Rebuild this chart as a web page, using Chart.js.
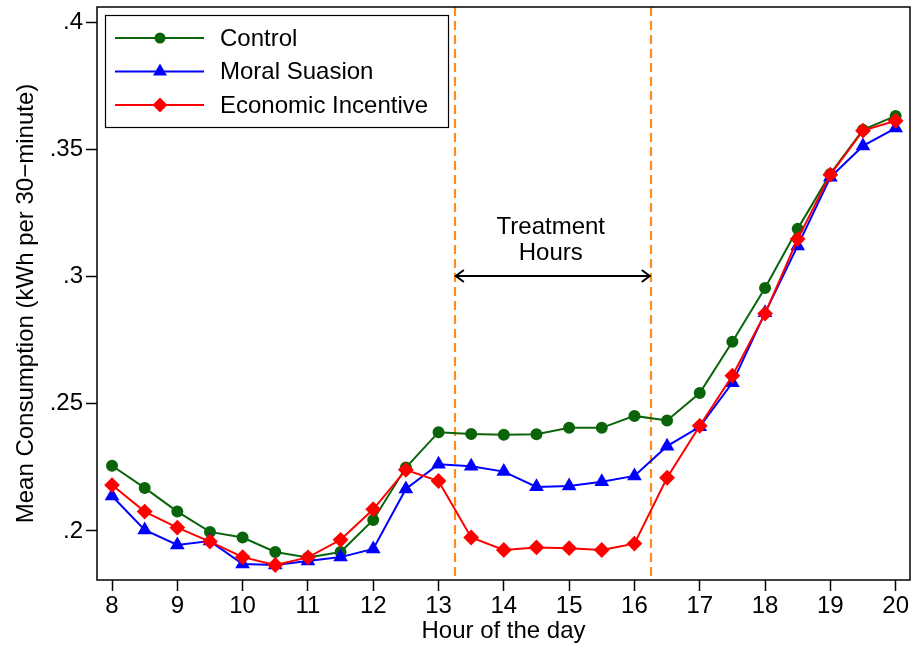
<!DOCTYPE html>
<html>
<head>
<meta charset="utf-8">
<script src="https://cdn.jsdelivr.net/npm/chart.js@4"></script>
<style>
  html, body { margin: 0; padding: 0; background: #fff; }
  #wrap { width: 912px; height: 646px; }
</style>
</head>
<body>
<div id="wrap"><canvas id="myChart" width="912" height="646"></canvas></div>
<script>
// half-hour slots
const hours = [8, 8.5, 9, 9.5, 10, 10.5, 11, 11.5, 12, 12.5, 13, 13.5, 14, 14.5, 15, 15.5, 16, 16.5, 17, 17.5, 18, 18.5, 19, 19.5, 20];

const control = [0.2256, 0.2169, 0.2076, 0.1996, 0.1974, 0.1917, 0.1895, 0.1917, 0.2043, 0.2249,
  0.2388, 0.2381, 0.2378, 0.2380, 0.2405, 0.2405, 0.2452, 0.2434, 0.2542, 0.2743,
  0.2955, 0.3187, 0.3403, 0.3576, 0.3631];
const moralSuasion = [0.2137, 0.2004, 0.1945, 0.1960, 0.1870, 0.1866, 0.1882, 0.1897, 0.1929, 0.2165,
  0.2262, 0.2254, 0.2233, 0.2173, 0.2176, 0.2193, 0.2216, 0.2333, 0.2409, 0.2582,
  0.2857, 0.3120, 0.3390, 0.3513, 0.3583];
const economicIncentive = [0.2180, 0.2076, 0.2013, 0.1958, 0.1897, 0.1866, 0.1896, 0.1965, 0.2085, 0.2240,
  0.2196, 0.1974, 0.1925, 0.1935, 0.1932, 0.1925, 0.1950, 0.2209, 0.2413, 0.2610,
  0.2854, 0.3147, 0.3400, 0.3573, 0.3612];

const xTicks = [8, 9, 10, 11, 12, 13, 14, 15, 16, 17, 18, 19, 20];
const yTicks = [0.2, 0.25, 0.3, 0.35, 0.4];
const yTickLabels = [".2", ".25", ".3", ".35", ".4"];

// treatment window
const treatStart = 13.25;
const treatEnd = 16.25;
const arrowLevel = 0.3;
const treatLabel = ["Treatment", "Hours"];

const FONT = "'Liberation Sans', Arial, Helvetica, sans-serif";

function toPoints(vals) {
  return hours.map((h, i) => ({ x: h, y: vals[i] }));
}

// frame, treatment lines, arrow and legend box
const decorations = {
  id: "decorations",
  beforeDatasetsDraw(chart) {
    const { ctx, chartArea, scales } = chart;
    ctx.save();
    ctx.strokeStyle = "#ff8c1a";
    ctx.lineWidth = 2.2;
    ctx.setLineDash([9, 5]);
    [treatStart, treatEnd].forEach((v) => {
      const px = Math.round(scales.x.getPixelForValue(v));
      ctx.beginPath();
      ctx.moveTo(px, chartArea.top);
      ctx.lineTo(px, chartArea.bottom);
      ctx.stroke();
    });
    ctx.setLineDash([]);

    // double arrow
    const x1 = scales.x.getPixelForValue(treatStart);
    const x2 = scales.x.getPixelForValue(treatEnd);
    const ay = Math.round(scales.y.getPixelForValue(arrowLevel));
    ctx.strokeStyle = "#000";
    ctx.lineWidth = 2;
    ctx.beginPath();
    ctx.moveTo(x1, ay);
    ctx.lineTo(x2, ay);
    ctx.moveTo(x1 + 9, ay - 6);
    ctx.lineTo(x1 + 1, ay);
    ctx.lineTo(x1 + 9, ay + 6);
    ctx.moveTo(x2 - 9, ay - 6);
    ctx.lineTo(x2 - 1, ay);
    ctx.lineTo(x2 - 9, ay + 6);
    ctx.stroke();

    ctx.fillStyle = "#000";
    ctx.font = "24px " + FONT;
    ctx.textAlign = "center";
    ctx.textBaseline = "middle";
    const cx = (x1 + x2) / 2 - 2;
    ctx.fillText(treatLabel[0], cx, 227);
    ctx.fillText(treatLabel[1], cx, 253);
    ctx.restore();
  },
  afterDraw(chart) {
    const { ctx, chartArea } = chart;
    ctx.save();
    ctx.strokeStyle = "#000";
    ctx.lineWidth = 1.5;
    ctx.strokeRect(chartArea.left, chartArea.top, chartArea.right - chartArea.left, chartArea.bottom - chartArea.top);

    // legend
    const lx = 105, ly = 15, lw = 343, lh = 112;
    ctx.fillStyle = "#fff";
    ctx.fillRect(lx, ly, lw, lh);
    ctx.lineWidth = 1.2;
    ctx.strokeRect(lx + 0.5, ly + 0.5, lw, lh);
    const rows = [38, 71.5, 105];
    chart.data.datasets.forEach((ds, r) => {
      const y = rows[r];
      ctx.strokeStyle = ds.borderColor;
      ctx.lineWidth = 2;
      ctx.beginPath();
      ctx.moveTo(115, y);
      ctx.lineTo(204, y);
      ctx.stroke();
      Chart.helpers.drawPoint(ctx, {
        pointStyle: ds.pointStyle,
        radius: ds.legendRadius,
        borderWidth: 1,
        rotation: 0
      }, 160, y);
      ctx.fillStyle = ds.borderColor;
      ctx.fill();
      ctx.fillStyle = "#000";
      ctx.font = "24px " + FONT;
      ctx.textAlign = "left";
      ctx.textBaseline = "middle";
      ctx.fillText(ds.label, 220, y + 1);
    });
    ctx.restore();
  }
};

const ctx = document.getElementById("myChart").getContext("2d");
const chart = new Chart(ctx, {
  type: "line",
  data: {
    datasets: [
      {
        label: "Control",
        data: toPoints(control),
        borderColor: "#0a640a",
        backgroundColor: "#0a640a",
        borderWidth: 2,
        pointStyle: "circle",
        pointRadius: 5,
        legendRadius: 4.5,
        order: 3
      },
      {
        label: "Moral Suasion",
        data: toPoints(moralSuasion),
        borderColor: "#0000ff",
        backgroundColor: "#0000ff",
        borderWidth: 2,
        pointStyle: "triangle",
        pointRadius: 6.5,
        legendRadius: 6,
        order: 2
      },
      {
        label: "Economic Incentive",
        data: toPoints(economicIncentive),
        borderColor: "#ff0000",
        backgroundColor: "#ff0000",
        borderWidth: 2,
        pointStyle: "rectRot",
        pointRadius: 6.5,
        legendRadius: 6,
        order: 1
      }
    ]
  },
  options: {
    responsive: false,
    animation: false,
    layout: { autoPadding: false, padding: { left: 0, top: 7, right: 2, bottom: 0 } },
    plugins: {
      legend: { display: false },
      tooltip: { enabled: false }
    },
    elements: {
      line: { tension: 0 },
      point: { borderWidth: 1, hoverRadius: 5 }
    },
    scales: {
      x: {
        type: "linear",
        min: 7.77,
        max: 20.22,
        afterBuildTicks(scale) {
          scale.ticks = xTicks.map((v) => ({ value: v }));
        },
        afterFit(scale) {
          scale.height = 66;
          scale.paddingLeft = 0;
          scale.paddingRight = 0;
        },
        grid: { drawOnChartArea: false, drawTicks: true, tickLength: 11, color: "#000", tickWidth: 1.5 },
        border: { display: false },
        ticks: {
          color: "#000",
          font: { family: FONT, size: 24 },
          padding: 1,
          maxRotation: 0,
          callback: (v) => String(v)
        },
        title: {
          display: true,
          text: "Hour of the day",
          color: "#000",
          font: { family: FONT, size: 24 },
          padding: { top: 0, bottom: 0 }
        }
      },
      y: {
        type: "linear",
        min: 0.1807,
        max: 0.4059,
        afterBuildTicks(scale) {
          scale.ticks = yTicks.map((v) => ({ value: v }));
        },
        afterFit(scale) {
          scale.width = 97;
          scale.paddingTop = 0;
          scale.paddingBottom = 0;
        },
        grid: { drawOnChartArea: false, drawTicks: true, tickLength: 11, color: "#000", tickWidth: 1.5 },
        border: { display: false },
        ticks: {
          color: "#000",
          font: { family: FONT, size: 24 },
          padding: 3,
          callback: (v) => {
            const i = yTicks.indexOf(v);
            return i >= 0 ? yTickLabels[i] : "";
          }
        },
        title: {
          display: true,
          text: "Mean Consumption (kWh per 30\u2212minute)\u00a0\u00a0\u00a0",
          color: "#000",
          font: { family: FONT, size: 24 },
          padding: { top: 12, bottom: 0 }
        }
      }
    }
  },
  plugins: [decorations]
});
</script>
</body>
</html>
